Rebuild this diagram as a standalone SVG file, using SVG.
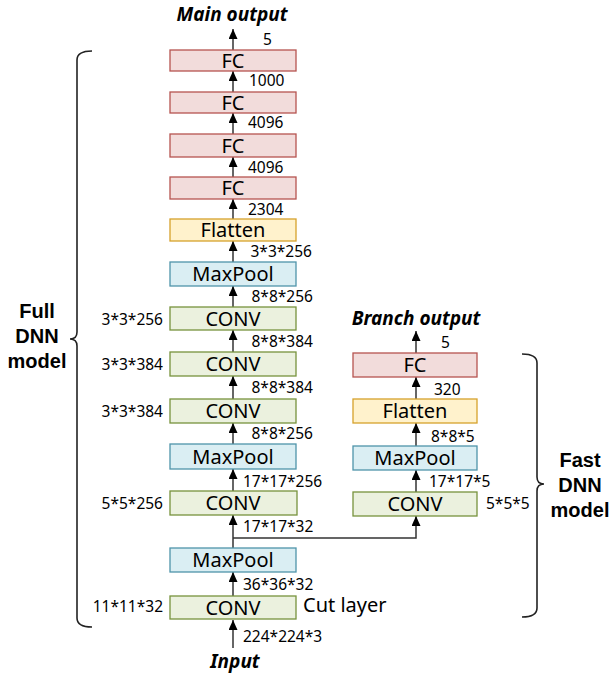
<svg xmlns="http://www.w3.org/2000/svg" width="610" height="675" viewBox="0 0 610 675">
<defs>
<marker id="arr" markerUnits="userSpaceOnUse" markerWidth="10" markerHeight="10" refX="10" refY="4.5" orient="auto">
<path d="M0,0 L10,4.5 L0,9 z" fill="#000"/>
</marker>
<style>
.fc{fill:#F2DCDB;stroke:#B65450;stroke-width:1.3}
.fl{fill:#FFF2CC;stroke:#D6A12B;stroke-width:1.3}
.mp{fill:#DAEEF3;stroke:#4F94AA;stroke-width:1.3}
.cv{fill:#EBF1DE;stroke:#77933C;stroke-width:1.3}
.bt{font-family:"Noto Sans","Open Sans",sans-serif;font-size:20px;fill:#000;text-anchor:middle}
.num{font-family:"Noto Sans","Open Sans",sans-serif;font-size:15.5px;fill:#000}
.end{text-anchor:end}
.ttl{font-family:"Noto Sans","Open Sans",sans-serif;font-size:19px;font-weight:bold;font-style:italic;fill:#000;text-anchor:middle}
.big{font-family:"Liberation Sans",Arial,sans-serif;font-size:20px;font-weight:bold;fill:#000;text-anchor:middle}
.ln{fill:none;stroke:#333;stroke-width:1.5}
.br{fill:none;stroke:#222;stroke-width:1.6}
</style>
</defs>

<g id="connectors">
<line class="ln" x1="233" y1="648" x2="233" y2="620" marker-end="url(#arr)"/>
<line class="ln" x1="233" y1="596" x2="233" y2="572" marker-end="url(#arr)"/>
<line class="ln" x1="233" y1="548" x2="233" y2="515" marker-end="url(#arr)"/>
<line class="ln" x1="233" y1="491" x2="233" y2="469" marker-end="url(#arr)"/>
<line class="ln" x1="233" y1="444" x2="233" y2="423" marker-end="url(#arr)"/>
<line class="ln" x1="233" y1="399" x2="233" y2="376" marker-end="url(#arr)"/>
<line class="ln" x1="233" y1="352" x2="233" y2="330" marker-end="url(#arr)"/>
<line class="ln" x1="233" y1="307" x2="233" y2="286" marker-end="url(#arr)"/>
<line class="ln" x1="233" y1="262" x2="233" y2="241" marker-end="url(#arr)"/>
<line class="ln" x1="233" y1="219" x2="233" y2="199" marker-end="url(#arr)"/>
<line class="ln" x1="233" y1="177" x2="233" y2="157" marker-end="url(#arr)"/>
<line class="ln" x1="233" y1="134" x2="233" y2="113" marker-end="url(#arr)"/>
<line class="ln" x1="233" y1="92" x2="233" y2="71" marker-end="url(#arr)"/>
<line class="ln" x1="233" y1="50" x2="233" y2="29" marker-end="url(#arr)"/>
<polyline class="ln" points="233,538 416,538 416,516" marker-end="url(#arr)"/>
<line class="ln" x1="416" y1="492" x2="416" y2="470" marker-end="url(#arr)"/>
<line class="ln" x1="416" y1="446" x2="416" y2="423" marker-end="url(#arr)"/>
<line class="ln" x1="416" y1="399" x2="416" y2="377" marker-end="url(#arr)"/>
<line class="ln" x1="416" y1="353" x2="416" y2="331" marker-end="url(#arr)"/>
</g>

<g id="fc1"><rect class="fc" x="170" y="50" width="126" height="21"/><text class="bt" x="233" y="67.5">FC</text></g>
<g id="fc2"><rect class="fc" x="170" y="92" width="126" height="21"/><text class="bt" x="233" y="109.5">FC</text></g>
<g id="fc3"><rect class="fc" x="170" y="134" width="126" height="23"/><text class="bt" x="233" y="152.5">FC</text></g>
<g id="fc4"><rect class="fc" x="170" y="177" width="126" height="22"/><text class="bt" x="233" y="195">FC</text></g>
<g id="flatten"><rect class="fl" x="170" y="219" width="126" height="22"/><text class="bt" x="233" y="237">Flatten</text></g>
<g id="maxpool3"><rect class="mp" x="170" y="262" width="126" height="24"/><text class="bt" x="233" y="281">MaxPool</text></g>
<g id="conv5"><rect class="cv" x="170" y="307" width="126" height="23"/><text class="bt" x="233" y="325.5">CONV</text></g>
<g id="conv4"><rect class="cv" x="170" y="352" width="126" height="24"/><text class="bt" x="233" y="371">CONV</text></g>
<g id="conv3"><rect class="cv" x="170" y="399" width="126" height="24"/><text class="bt" x="233" y="418">CONV</text></g>
<g id="maxpool2"><rect class="mp" x="170" y="444" width="126" height="25"/><text class="bt" x="233" y="463.5">MaxPool</text></g>
<g id="conv2"><rect class="cv" x="170" y="491" width="127" height="24"/><text class="bt" x="233" y="510">CONV</text></g>
<g id="maxpool1"><rect class="mp" x="170" y="548" width="126" height="24"/><text class="bt" x="233" y="567">MaxPool</text></g>
<g id="conv1"><rect class="cv" x="170" y="596" width="126" height="23"/><text class="bt" x="233" y="614.5">CONV</text></g>

<g id="bfc"><rect class="fc" x="353" y="353" width="124" height="24"/><text class="bt" x="415" y="372">FC</text></g>
<g id="bflatten"><rect class="fl" x="353" y="399" width="124" height="24"/><text class="bt" x="415" y="418">Flatten</text></g>
<g id="bmaxpool"><rect class="mp" x="353" y="446" width="124" height="24"/><text class="bt" x="415" y="465">MaxPool</text></g>
<g id="bconv"><rect class="cv" x="353" y="492" width="124" height="24"/><text class="bt" x="415" y="511">CONV</text></g>

<g id="labels">
<text class="ttl" x="232" y="21">Main output</text>
<text class="ttl" x="416" y="325">Branch output</text>
<text class="ttl" x="235" y="668">Input</text>
<text class="num" x="263" y="45">5</text>
<text class="num" x="249" y="86">1000</text>
<text class="num" x="248" y="128">4096</text>
<text class="num" x="248" y="173">4096</text>
<text class="num" x="248" y="215">2304</text>
<text class="num" x="250.5" y="257">3*3*256</text>
<text class="num" x="251.5" y="302">8*8*256</text>
<text class="num" x="251.5" y="347">8*8*384</text>
<text class="num" x="251.5" y="393">8*8*384</text>
<text class="num" x="251.5" y="439">8*8*256</text>
<text class="num" x="243" y="487">17*17*256</text>
<text class="num" x="243" y="532">17*17*32</text>
<text class="num" x="243" y="590">36*36*32</text>
<text class="num" x="243" y="642">224*224*3</text>
<text class="num end" x="163" y="324.5">3*3*256</text>
<text class="num end" x="163" y="370">3*3*384</text>
<text class="num end" x="163" y="416.5">3*3*384</text>
<text class="num end" x="163" y="508.5">5*5*256</text>
<text class="num end" x="163" y="612">11*11*32</text>
<text class="bt" x="303" y="611.5" style="text-anchor:start">Cut layer</text>
<text class="num" x="441" y="348">5</text>
<text class="num" x="434" y="395">320</text>
<text class="num" x="431" y="442">8*8*5</text>
<text class="num" x="429" y="487">17*17*5</text>
<text class="num" x="486" y="508.5">5*5*5</text>
<text class="big" x="37" y="318">Full</text>
<text class="big" x="37" y="343">DNN</text>
<text class="big" x="37" y="368">model</text>
<text class="big" x="580" y="467">Fast</text>
<text class="big" x="580" y="492">DNN</text>
<text class="big" x="580" y="517">model</text>
</g>

<g id="braces">
<path class="br" d="M92,51 Q77,51 77,60 L77,332 Q77,339 70,339 Q77,339 77,346 L77,618 Q77,627 92,627"/>
<path class="br" d="M522,354 Q537,354 537,363 L537,477 Q537,484 544,484 Q537,484 537,491 L537,608 Q537,617 522,617"/>
</g>
</svg>
